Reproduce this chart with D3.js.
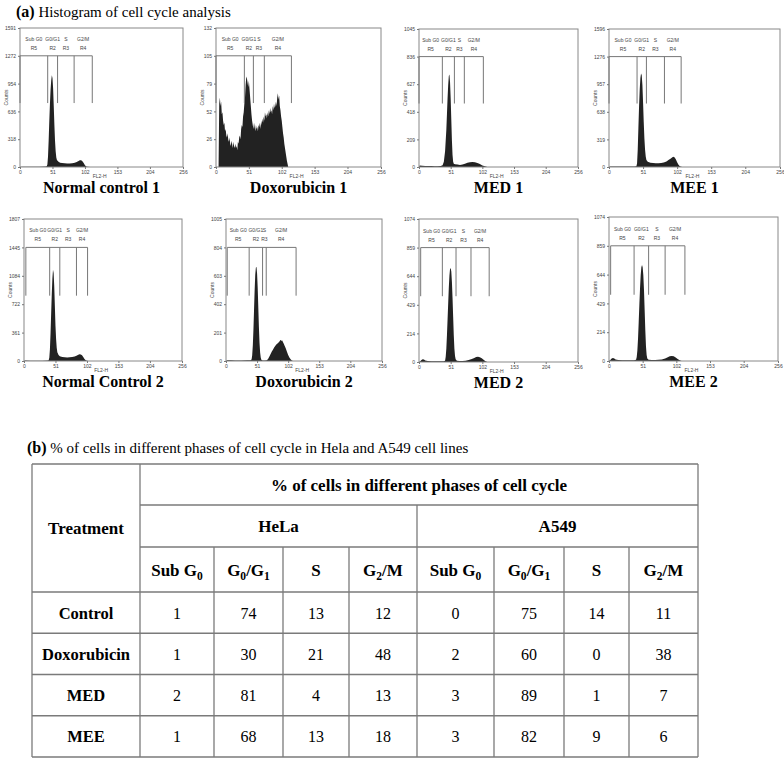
<!DOCTYPE html>
<html>
<head>
<meta charset="utf-8">
<script src="https://cdn.jsdelivr.net/npm/d3@7"></script>
<style>
body { margin: 0; background: #fff; }
svg { display: block; font-family: "Liberation Serif", "Times New Roman", serif; }
.tiny { font-family: "Liberation Sans", Arial, sans-serif; font-size: 5px; fill: #444; }
.axis text { font-family: "Liberation Sans", Arial, sans-serif; font-size: 5px; fill: #444; }
.axis line { stroke: #777; }
.frame { fill: none; stroke: #888; stroke-width: 1px; }
.gate { stroke: #777; stroke-width: 1px; fill: none; }
.hist { fill: #222; }
.panelTitle { font-family: "Liberation Serif", "Times New Roman", serif; font-weight: bold; font-size: 16px; text-anchor: middle; fill: #000; }
.cap { font-family: "Liberation Serif", "Times New Roman", serif; font-size: 15px; fill: #000; }
.grid { stroke: #7a7a7a; stroke-width: 1.3px; }
.th { font-family: "Liberation Serif", "Times New Roman", serif; font-weight: bold; text-anchor: middle; fill: #000; }
.td { font-family: "Liberation Serif", "Times New Roman", serif; font-size: 16px; text-anchor: middle; fill: #000; }
</style>
</head>
<body>
<svg id="chart" width="784" height="758"></svg>
<script>
// ---- histogram data (channel, counts) ----
const xTicks = [0, 51, 102, 153, 204, 256];
const panelTitles = ["Normal control 1", "Doxorubicin 1", "MED 1", "MEE 1",
                     "Normal Control 2", "Doxorubicin 2", "MED 2", "MEE 2"];
const panelMax = [1591, 132, 1045, 1596, 1807, 1005, 1074, 1074];
// marker edges: start, R5|R2, R2|R3, R3|R4, end
const gateEdges = [
  [0, 43.5, 59, 85, 113.5],
  [0, 44, 58, 75, 117],
  [0, 37.6, 57, 73, 103.6],
  [0, 42, 56, 83, 108],
  [3, 41.6, 58, 85, 103],
  [2, 38, 60, 66, 115],
  [2.7, 37.6, 59.6, 83.7, 113],
  [2.5, 38, 60, 85, 115]
];
const phaseNames = ["Sub G0", "G0/G1", "S", "G2/M"];
const regionNames = ["R5", "R2", "R3", "R4"];

const histNormal1 = [[0,0],[3,4],[10,3],[20,4],[30,3],[40,5],[42,8],[43,30],[44,120],[45,300],[46,520],[47,720],[48,880],[49,990],[50,1050],[51,1020],[52,900],[53,700],[54,480],[55,300],[56,180],[57,110],[58,80],[60,62],[63,50],[66,46],[70,42],[74,40],[78,40],[82,42],[86,48],[89,58],[92,70],[94,78],[96,76],[98,66],[100,45],[102,20],[104,6],[106,2],[110,0]];
const histDoxo1 = [[4,0],[5,60],[6,66],[7,58],[8,62],[9,50],[10,52],[11,44],[12,40],[13,42],[14,34],[15,36],[16,30],[17,28],[18,32],[19,26],[20,24],[21,28],[22,22],[23,20],[24,25],[25,22],[26,18],[27,24],[28,20],[29,18],[30,22],[31,18],[32,20],[33,16],[34,24],[35,22],[36,28],[37,30],[38,26],[39,36],[40,40],[41,38],[42,48],[43,52],[44,60],[45,66],[46,78],[47,86],[48,84],[49,80],[50,76],[51,82],[52,74],[53,66],[54,58],[55,50],[56,44],[57,40],[58,36],[59,42],[60,38],[61,34],[62,40],[63,36],[64,38],[65,34],[66,40],[67,38],[68,42],[69,36],[70,44],[71,40],[72,46],[73,42],[74,48],[75,44],[76,52],[77,48],[78,50],[79,46],[80,52],[81,48],[82,54],[83,50],[84,56],[85,52],[86,54],[87,50],[88,58],[89,54],[90,60],[91,56],[92,58],[93,62],[94,58],[95,66],[96,70],[97,64],[98,68],[99,58],[100,54],[101,48],[102,44],[103,38],[104,32],[105,28],[106,22],[107,18],[108,14],[109,10],[110,6],[111,3],[112,0]];
const histMed1 = [[0,0],[1,12],[5,10],[10,8],[15,8],[20,7],[25,6],[30,6],[35,8],[38,14],[40,40],[42,120],[44,280],[45,400],[46,520],[47,620],[48,690],[49,700],[50,640],[51,520],[52,360],[53,200],[54,90],[55,40],[56,25],[58,20],[62,18],[66,16],[70,18],[74,24],[78,32],[82,36],[86,38],[90,36],[94,30],[98,22],[102,12],[106,5],[110,0]];
const histMee1 = [[0,0],[2,6],[10,5],[20,5],[30,5],[38,6],[41,10],[42,40],[43,200],[44,450],[45,700],[46,900],[47,1030],[48,1080],[49,1060],[50,950],[51,750],[52,520],[53,330],[54,200],[55,120],[56,80],[58,60],[62,50],[66,46],[70,44],[74,44],[78,46],[82,52],[86,64],[89,80],[92,96],[94,108],[96,118],[98,112],[100,90],[102,55],[104,25],[106,10],[108,3],[110,0]];
const histNormal2 = [[0,0],[2,5],[10,4],[20,4],[30,4],[38,6],[40,10],[41,40],[42,150],[43,350],[44,600],[45,850],[46,1050],[47,1160],[48,1120],[49,950],[50,700],[51,450],[52,280],[53,170],[54,110],[56,75],[58,60],[62,52],[66,48],[70,46],[74,48],[78,52],[82,58],[85,66],[88,78],[90,86],[92,84],[94,72],[96,50],[98,25],[100,8],[102,2],[104,0]];
const histDoxo2 = [[0,0],[2,6],[8,5],[15,4],[25,4],[35,5],[40,6],[42,10],[43,40],[44,110],[45,220],[46,360],[47,500],[48,610],[49,660],[50,667],[51,620],[52,520],[53,380],[54,240],[55,130],[56,60],[57,25],[58,8],[60,3],[64,3],[67,6],[69,15],[71,30],[73,48],[75,65],[77,80],[79,95],[81,108],[83,118],[85,126],[87,134],[88,140],[89,146],[90,148],[91,142],[92,146],[93,138],[94,130],[95,120],[96,110],[98,90],[100,65],[102,42],[104,25],[106,12],[108,4],[110,0]];
const histMed2 = [[0,0],[2,5],[4,15],[6,20],[8,18],[10,12],[14,8],[20,6],[28,5],[36,5],[40,6],[42,10],[43,40],[44,100],[45,200],[46,320],[47,440],[48,560],[49,650],[50,700],[51,705],[52,680],[53,600],[54,480],[55,340],[56,200],[57,100],[58,45],[59,20],[61,10],[65,8],[70,8],[75,10],[80,15],[85,22],[89,30],[92,38],[95,40],[98,36],[101,28],[104,16],[107,6],[110,0]];
const histMee2 = [[0,0],[2,8],[4,18],[6,22],[8,18],[10,12],[14,8],[20,6],[30,5],[38,6],[41,10],[42,30],[43,80],[44,170],[45,290],[46,420],[47,540],[48,640],[49,700],[50,716],[51,700],[52,640],[53,530],[54,380],[55,230],[56,110],[57,45],[58,18],[60,10],[65,8],[70,8],[75,9],[80,12],[85,18],[89,28],[92,35],[95,38],[98,35],[101,27],[104,15],[107,5],[110,0]];
const histograms = [histNormal1, histDoxo1, histMed1, histMee1, histNormal2, histDoxo2, histMed2, histMee2];

// ---- table data ----
const treatments = ["Control", "Doxorubicin", "MED", "MEE"];
const cellLines = ["HeLa", "A549"];
const helaPct = [[1, 74, 13, 12], [1, 30, 21, 48], [2, 81, 4, 13], [1, 68, 13, 18]];
const a549Pct = [[0, 75, 14, 11], [2, 60, 0, 38], [3, 89, 1, 7], [3, 82, 9, 6]];
// header labels as [text, isSubscript] pieces
const phaseHeads = [
  [["Sub G", 0], ["0", 1]],
  [["G", 0], ["0", 1], ["/G", 0], ["1", 1]],
  [["S", 0]],
  [["G", 0], ["2", 1], ["/M", 0]]
];

// ---- layout ----
const frames = [
  [20, 183, 28, 167], [216, 381, 28, 167], [419, 578, 29, 167], [609, 780, 29, 167],
  [24, 182, 219, 361], [226, 382, 219, 361], [419, 578, 219, 362], [609, 778, 217, 361]
];

const svg = d3.select("#chart");

svg.append("text").attr("class", "cap").attr("x", 16).attr("y", 17)
  .call(t => {
    t.append("tspan").attr("font-weight", "bold").attr("font-size", 16).text("(a)");
    t.append("tspan").text(" Histogram of cell cycle analysis");
  });

const area = d3.area().curve(d3.curveLinear);

frames.forEach(([x0, x1, y0, y1], i) => {
  const max = panelMax[i];
  const x = d3.scaleLinear().domain([0, 256]).range([x0, x1]);
  const y = d3.scaleLinear().domain([0, max]).range([y1, y0]);
  const g = svg.append("g");

  g.append("path").attr("class", "hist")
    .datum(histograms[i])
    .attr("d", area.x(d => x(d[0])).y0(y(0)).y1(d => y(d[1])));

  g.append("rect").attr("class", "frame")
    .attr("x", x0).attr("y", y0).attr("width", x1 - x0).attr("height", y1 - y0);

  g.append("g").attr("class", "axis").attr("transform", `translate(0,${y1})`)
    .call(d3.axisBottom(x).tickValues(xTicks).tickSize(2).tickPadding(1.5))
    .call(a => a.select(".domain").remove());

  const yt = d3.range(0, 6).map(k => max * k / 5);
  g.append("g").attr("class", "axis").attr("transform", `translate(${x0},0)`)
    .call(d3.axisLeft(y).tickValues(yt).tickFormat(v => Math.floor(v + 1e-6)).tickSize(2).tickPadding(2))
    .call(a => a.select(".domain").remove());

  g.append("text").attr("class", "tiny")
    .attr("transform", `translate(${x0 - 12},${(y0 + y1) / 2}) rotate(-90)`)
    .attr("text-anchor", "middle").text("Counts");
  g.append("text").attr("class", "tiny").attr("x", x(125)).attr("y", y1 + 11)
    .attr("text-anchor", "middle").text("FL2-H");

  // region markers
  const e = gateEdges[i];
  const gy = y(max * 0.8), gyl = y(max * 0.46);
  g.append("line").attr("class", "gate")
    .attr("x1", x(e[0])).attr("x2", x(e[4])).attr("y1", gy).attr("y2", gy);
  g.selectAll(".gv").data(e).join("line").attr("class", "gate")
    .attr("x1", d => x(d)).attr("x2", d => x(d)).attr("y1", gy).attr("y2", gyl);
  const mids = d3.range(4).map(k => (e[k] + e[k + 1]) / 2);
  g.selectAll(".ph").data(mids).join("text").attr("class", "tiny")
    .attr("x", d => x(d)).attr("y", gy - 15).attr("text-anchor", "middle")
    .text((d, k) => phaseNames[k]);
  g.selectAll(".rn").data(mids).join("text").attr("class", "tiny")
    .attr("x", d => x(d)).attr("y", gy - 6).attr("text-anchor", "middle")
    .text((d, k) => regionNames[k]);

  svg.append("text").attr("class", "panelTitle")
    .attr("x", (x0 + x1) / 2).attr("y", y1 + 26).text(panelTitles[i]);
});

// ---- table ----
svg.append("text").attr("class", "cap").attr("x", 27).attr("y", 453)
  .call(t => {
    t.append("tspan").attr("font-weight", "bold").attr("font-size", 16).text("(b)");
    t.append("tspan").text(" % of cells in different phases of cell cycle in Hela and A549 cell lines");
  });

const colEdges = [32, 140, 214, 283, 349, 417, 494, 564, 629, 698];
const headY = [464, 505, 547, 592];
const rowY = d3.scaleBand().domain(treatments).range([592, 757]);
const tb = svg.append("g");
const L = colEdges[0], R = colEdges[colEdges.length - 1], B = rowY.range()[1];

function hline(y, a, b) { tb.append("line").attr("class", "grid").attr("x1", a).attr("x2", b).attr("y1", y).attr("y2", y); }
function vline(x, a, b) { tb.append("line").attr("class", "grid").attr("x1", x).attr("x2", x).attr("y1", a).attr("y2", b); }

hline(headY[0], L, R);
hline(headY[1], colEdges[1], R);
hline(headY[2], colEdges[1], R);
treatments.forEach(t => hline(rowY(t), L, R));
hline(B, L, R);
vline(L, headY[0], B); vline(R, headY[0], B);
vline(colEdges[1], headY[0], B);
vline(colEdges[5], headY[1], B);
colEdges.slice(2, 9).forEach(c => { if (c !== colEdges[5]) vline(c, headY[2], B); });

function rich(sel, pieces, size) {
  let shift = 0;
  pieces.forEach(([txt, sub]) => {
    const target = sub ? size * 0.28 : 0;
    sel.append("tspan").attr("font-size", sub ? size * 0.68 : size)
      .attr("dy", target - shift).text(txt);
    shift = target;
  });
}

tb.append("text").attr("class", "th").attr("font-size", 17)
  .attr("x", (L + colEdges[1]) / 2).attr("y", (headY[0] + headY[3]) / 2 + 6).text("Treatment");
tb.append("text").attr("class", "th").attr("font-size", 17)
  .attr("x", (colEdges[1] + R) / 2).attr("y", (headY[0] + headY[1]) / 2 + 6)
  .text("% of cells in different phases of cell cycle");
cellLines.forEach((c, k) => {
  tb.append("text").attr("class", "th").attr("font-size", 17)
    .attr("x", (colEdges[1 + 4 * k] + colEdges[5 + 4 * k]) / 2)
    .attr("y", (headY[1] + headY[2]) / 2 + 6).text(c);
});
d3.range(8).forEach(j => {
  const t = tb.append("text").attr("class", "th")
    .attr("x", (colEdges[j + 1] + colEdges[j + 2]) / 2)
    .attr("y", (headY[2] + headY[3]) / 2 + 6);
  rich(t, phaseHeads[j % 4], 17);
});

treatments.forEach((t, r) => {
  const cy = rowY(t) + rowY.bandwidth() / 2 + 6;
  tb.append("text").attr("class", "th").attr("font-size", 16.5)
    .attr("x", (L + colEdges[1]) / 2).attr("y", cy).text(t);
  const vals = helaPct[r].concat(a549Pct[r]);
  tb.selectAll(null).data(vals).join("text").attr("class", "td")
    .attr("x", (d, j) => (colEdges[j + 1] + colEdges[j + 2]) / 2).attr("y", cy)
    .text(d => d);
});
</script>
</body>
</html>
